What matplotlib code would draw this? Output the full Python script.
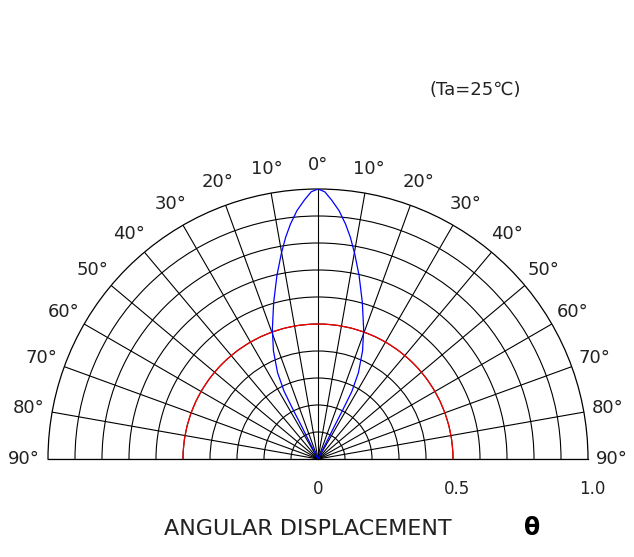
import matplotlib
matplotlib.use('Agg')
import matplotlib.pyplot as plt
import numpy as np

# Relative intensity vs angular displacement (one half of the lobe, mirrored),
# listed from the tip of the lobe down to the origin
lobe_deg = [0, 1.45, 2.98, 4.85, 6.69, 8.33, 10.15, 12.6, 15.8, 19.4, 22.4,
            25.1, 26.6, 26.8, 26.6, 26.6, 26.6]
lobe_r = [1.00, 0.990, 0.961, 0.923, 0.876, 0.829, 0.772, 0.697, 0.603, 0.509, 0.433,
          0.353, 0.280, 0.202, 0.134, 0.067, 0.0]

ref_level = 0.5  # red reference circle

angle_ticks = list(range(-90, 91, 10))
ring_ticks = [0.1, 0.2, 0.3, 0.4, 0.5, 0.6, 0.7, 0.8, 0.9]
radial_labels = ['0', '0.5', '1.0']
radial_label_pos = [0.0, 0.5, 1.0]

plt.rcParams['font.family'] = ['DejaVu Sans']

W, H = 634, 557
fig = plt.figure(figsize=(W / 100, H / 100), dpi=100)

# centre of the half-disc at (318, 459) px, radius 270 px.
# polar wedge bbox is padded to a square, so the half-disc sits with its
# centre a quarter of the way up a 2R x 2R axes box
cx, cy, R = 318, 459, 270
bottom_px = (H - cy) - R / 2
ax = fig.add_axes([(cx - R) / W, bottom_px / H, 2 * R / W, 2 * R / H], projection='polar')
ax.set_theta_zero_location('N')
ax.set_theta_direction(-1)
ax.set_thetamin(-90)
ax.set_thetamax(90)
ax.set_rlim(0, 1)

ax.set_thetagrids(angle_ticks, labels=[''] * len(angle_ticks))
ax.set_rgrids(ring_ticks, labels=[''] * len(ring_ticks))
ax.grid(True, color='black', linewidth=0.8, linestyle='-')
for sp in ax.spines.values():
    sp.set_color('black')
    sp.set_linewidth(0.9)
ax.tick_params(length=0)

# red reference circle
th = np.radians(np.linspace(-90, 90, 361))
ax.plot(th, np.full_like(th, ref_level), color='red', linewidth=0.9, zorder=3)

# blue radiation lobe (mirror right half to the left)
deg = np.array(lobe_deg)
rr = np.array(lobe_r)
theta_full = np.radians(np.concatenate([-deg[::-1], deg[1:]]))
r_full = np.concatenate([rr[::-1], rr[1:]])
ax.plot(theta_full, r_full, color='blue', linewidth=0.9, zorder=4)

# angle labels outside the arc
for a in angle_ticks:
    ax.text(np.radians(a), 1.09, f'{abs(a)}°', ha='center', va='center',
            fontsize=13, color='#222222', clip_on=False)

# radial scale labels under the base line
for lab, r in zip(radial_labels, radial_label_pos):
    dx = 0 if r == 0 else 4
    ax.annotate(lab, xy=(np.radians(90), r), xytext=(dx, -30), textcoords='offset pixels',
                ha='center', va='center', fontsize=12, color='#222222', annotation_clip=False)

fig.text(475 / W, 1 - 90 / H, '(Ta=25℃)', ha='center', va='center', fontsize=13, color='#222222')
fig.text(308 / W, 1 - 529 / H, 'ANGULAR DISPLACEMENT', ha='center', va='center', fontsize=16, color='#222222')
fig.text(532 / W, 1 - 528 / H, 'θ', ha='center', va='center', fontsize=17, fontweight='bold', color='black')

fig.savefig('out.png', dpi=100)
